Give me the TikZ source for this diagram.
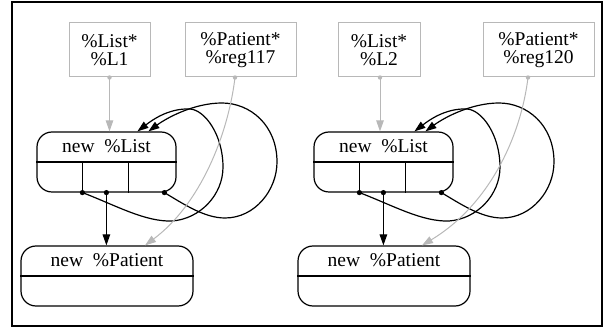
\documentclass[tikz,border=0pt]{standalone}
\usepackage{fontspec}
\setmainfont{Liberation Serif}
\usetikzlibrary{
  arrows.meta,
}
\definecolor{ptrgray}{gray}{0.72}
\tikzset{
  >={Triangle[length=11pt,width=7.5pt]},
  every node/.style={
    inner sep=0pt,
    font=\fontsize{19.5}{18.5}\selectfont,
  },
  ptr/.style={
    draw=ptrgray,
    line width=1pt,
    align=center,
    minimum height=54pt,
  },
  record/.style={
    draw,
    line width=1.2pt,
    rounded corners=15pt,
    minimum height=60pt,
  },
  field/.style={line width=1.2pt},
  ref/.style={->, line width=1.2pt},
  pointsto/.style={->, draw=ptrgray, line width=1pt},
}

\begin{document}
\begin{tikzpicture}[x=1pt, y=-1pt]
  \useasboundingbox (0,0) rectangle (605,328);
  \draw[line width=2pt] (12,2) rectangle (602,326);

  % registers
  \node[ptr, minimum width=81pt]  (pL1)     at (109.5,50) {\%List*\\\%L1};
  \node[ptr, minimum width=111pt] (preg117) at (240.5,50) {\%Patient*\\\%reg117};
  \node[ptr, minimum width=82pt]  (pL2)     at (379,50)   {\%List*\\\%L2};
  \node[ptr, minimum width=111pt] (preg120) at (538.5,50) {\%Patient*\\\%reg120};

  % first list cell and its patient
  \node[record, minimum width=139pt] (listA) at (106.5,162) {};
  \node (listAname) at ([yshift=-15pt]listA.north) {new\ \ \%List};
  \node[record, minimum width=172pt] (patA) at (107,276) {};
  \node (patAname) at ([yshift=-15pt]patA.north) {new\ \ \%Patient};
  \draw[field] (listA.west) -- (listA.east);
  \draw[field] (patA.west) -- (patA.east);
  \coordinate (listAf1) at ([xshift=46pt]listA.south west);
  \coordinate (listAf2) at ([xshift=92pt]listA.south west);
  \draw[field] (listAf1) -- (listAf1 |- listA.center);
  \draw[field] (listAf2) -- (listAf2 |- listA.center);
  \coordinate (listAp1) at (listAf1);
  \coordinate (listAp2) at ([xshift=70pt]listA.south west);
  \coordinate (listAp3) at ([xshift=128pt]listA.south west);
  \coordinate (listAin1) at ([xshift=101pt]listA.north west);
  \coordinate (listAin2) at ([xshift=112pt]listA.north west);

  \draw[ref] (listAp2) -- (listAp2 |- patA.north);
  \draw[ref] (listAp1) .. controls (115,205) and (145,222) .. (172,221)
    .. controls (200,219) and (223,195) .. (223,167)
    .. controls (223,135) and (205,110) .. (190,109)
    .. controls (168,108) and (151,121) .. (listAin1);
  \draw[ref] (listAp3) .. controls (185,205) and (205,218) .. (225,218)
    .. controls (255,218) and (277,190) .. (277,162)
    .. controls (277,125) and (250,103) .. (222,103)
    .. controls (195,103) and (168,117) .. (listAin2);
  \foreach \p in {listAp1,listAp2,listAp3}
    \fill (\p) circle[radius=2.6pt];

  % second list cell, same layout further right
  \begin{scope}[xshift=277pt]
    \node[record, minimum width=139pt] (listB) at (106.5,162) {};
    \node (listBname) at ([yshift=-15pt]listB.north) {new\ \ \%List};
    \node[record, minimum width=172pt] (patB) at (107,276) {};
    \node (patBname) at ([yshift=-15pt]patB.north) {new\ \ \%Patient};
    \draw[field] (listB.west) -- (listB.east);
    \draw[field] (patB.west) -- (patB.east);
    \coordinate (listBf1) at ([xshift=46pt]listB.south west);
    \coordinate (listBf2) at ([xshift=92pt]listB.south west);
    \draw[field] (listBf1) -- (listBf1 |- listB.center);
    \draw[field] (listBf2) -- (listBf2 |- listB.center);
    \coordinate (listBp1) at (listBf1);
    \coordinate (listBp2) at ([xshift=70pt]listB.south west);
    \coordinate (listBp3) at ([xshift=128pt]listB.south west);
    \coordinate (listBin1) at ([xshift=101pt]listB.north west);
    \coordinate (listBin2) at ([xshift=112pt]listB.north west);

    \draw[ref] (listBp2) -- (listBp2 |- patB.north);
    \draw[ref] (listBp1) .. controls (115,205) and (145,222) .. (172,221)
      .. controls (200,219) and (223,195) .. (223,167)
      .. controls (223,135) and (205,110) .. (190,109)
      .. controls (168,108) and (151,121) .. (listBin1);
    \draw[ref] (listBp3) .. controls (185,205) and (205,218) .. (225,218)
      .. controls (255,218) and (277,190) .. (277,162)
      .. controls (277,125) and (250,103) .. (222,103)
      .. controls (195,103) and (168,117) .. (listBin2);
    \foreach \p in {listBp1,listBp2,listBp3}
      \fill (\p) circle[radius=2.6pt];
  \end{scope}

  % what the registers point to
  \draw[pointsto] (pL1.south) -- (pL1.south |- listA.north);
  \draw[pointsto] ([xshift=-5.5pt]preg117.south) .. controls +(-7,58) and +(55,-41)
    .. ([xshift=38pt]patA.north);
  \draw[pointsto] ([xshift=1pt]pL2.south) -- ([xshift=1pt]pL2.south |- listB.north);
  \draw[pointsto] ([xshift=-10.5pt]preg120.south) .. controls +(-7,58) and +(68,-41)
    .. ([xshift=38pt]patB.north);
  \fill[ptrgray] (pL1.south) circle[radius=2.2pt];
  \fill[ptrgray] ([xshift=-5.5pt]preg117.south) circle[radius=2.2pt];
  \fill[ptrgray] ([xshift=1pt]pL2.south) circle[radius=2.2pt];
  \fill[ptrgray] ([xshift=-10.5pt]preg120.south) circle[radius=2.2pt];
\end{tikzpicture}
\end{document}
